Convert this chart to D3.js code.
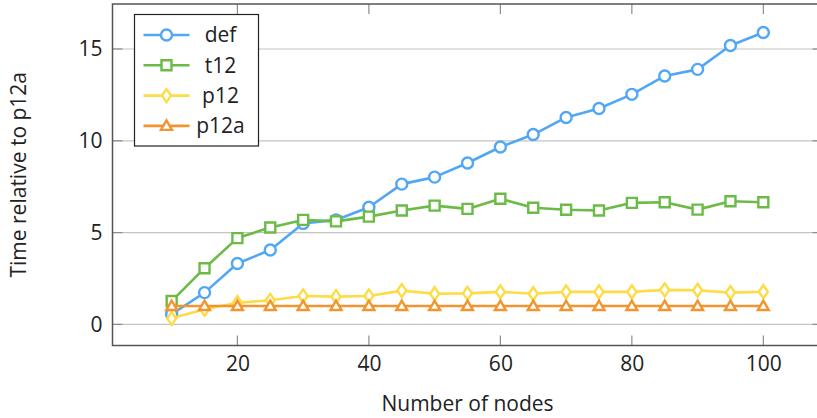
<!DOCTYPE html>
<html lang="en">
<head>
<meta charset="UTF-8">
<title>Time relative to p12a</title>
<script src="https://d3js.org/d3.v7.min.js"></script>
<style>
  body { margin: 0; background: #fff; }
  svg text { font-family: "Open Sans", Lato, sans-serif; fill: #222; }
</style>
</head>
<body>
<div id="chart"></div>
<script>
  // node counts on the x axis
  const nodes = [10, 15, 20, 25, 30, 35, 40, 45, 50, 55, 60, 65, 70, 75, 80, 85, 90, 95, 100];

  // series values
  const defVals = [0.55, 1.73, 3.32, 4.05, 5.50, 5.69, 6.38, 7.64, 8.02, 8.79, 9.66, 10.34, 11.27, 11.76, 12.53, 13.53, 13.89, 15.19, 15.90];
  const t12Vals = [1.27, 3.06, 4.70, 5.28, 5.69, 5.61, 5.87, 6.20, 6.47, 6.29, 6.84, 6.35, 6.24, 6.20, 6.62, 6.65, 6.25, 6.71, 6.65];
  const p12Vals = [0.33, 0.82, 1.18, 1.31, 1.55, 1.51, 1.55, 1.84, 1.67, 1.69, 1.77, 1.67, 1.77, 1.77, 1.77, 1.88, 1.86, 1.73, 1.78];
  const p12aVals = [1, 1, 1, 1, 1, 1, 1, 1, 1, 1, 1, 1, 1, 1, 1, 1, 1, 1, 1];

  const xTicks = [20, 40, 60, 80, 100];
  const yTicks = [0, 5, 10, 15];

  const series = [
    { name: "def", values: defVals, color: "#52a7f5", marker: "circle" },
    { name: "t12", values: t12Vals, color: "#6cbb47", marker: "square" },
    { name: "p12", values: p12Vals, color: "#fddc45", marker: "diamond" },
    { name: "p12a", values: p12aVals, color: "#f0952f", marker: "triangle" }
  ];

  const W = 817, H = 418;
  const box = { left: 112.5, top: 4, right: 822.5, bottom: 345.5 };
  const fs = "21px";

  const x = d3.scaleLinear().domain([1, 109]).range([box.left, box.right]);
  const y = d3.scaleLinear().domain([-1.15, 17.45]).range([box.bottom, box.top]);

  const svg = d3.select("#chart").append("svg")
      .attr("width", W)
      .attr("height", H);

  // horizontal grid
  svg.append("g").selectAll("line")
    .data(yTicks).enter().append("line")
      .attr("x1", box.left).attr("x2", box.right)
      .attr("y1", d => y(d)).attr("y2", d => y(d))
      .attr("stroke", "#c4c4c4").attr("stroke-width", 1.2);

  // tick marks, inside the box on every side
  const tl = 10;
  const ticks = svg.append("g").attr("stroke", "#8c8c8c").attr("stroke-width", 1.2);
  xTicks.forEach(t => {
    ticks.append("line").attr("x1", x(t)).attr("x2", x(t)).attr("y1", box.bottom).attr("y2", box.bottom - tl);
    ticks.append("line").attr("x1", x(t)).attr("x2", x(t)).attr("y1", box.top).attr("y2", box.top + tl);
  });
  yTicks.forEach(t => {
    ticks.append("line").attr("x1", box.left).attr("x2", box.left + tl).attr("y1", y(t)).attr("y2", y(t));
    ticks.append("line").attr("x1", box.right).attr("x2", box.right - tl).attr("y1", y(t)).attr("y2", y(t));
  });

  // axes via d3 (labels only, ticks drawn above)
  const xAxis = svg.append("g")
      .attr("transform", `translate(0,${box.bottom})`)
      .call(d3.axisBottom(x).tickValues(xTicks).tickSize(0).tickPadding(11));
  const yAxis = svg.append("g")
      .attr("transform", `translate(${box.left},0)`)
      .call(d3.axisLeft(y).tickValues(yTicks).tickSize(0).tickPadding(10));
  [xAxis, yAxis].forEach(a => {
    a.select(".domain").remove();
    a.selectAll("text").style("font-size", fs).style("font-family", "'Open Sans', sans-serif").attr("fill", "#222");
  });

  // box
  svg.append("rect")
      .attr("x", box.left).attr("y", box.top)
      .attr("width", box.right - box.left).attr("height", box.bottom - box.top)
      .attr("fill", "none").attr("stroke", "#555").attr("stroke-width", 1.5);

  // markers
  function markerPath(kind) {
    if (kind === "circle") return d3.symbol(d3.symbolCircle, 95)();
    if (kind === "square") return "M-5,-5H5V5H-5Z";
    if (kind === "diamond") return "M0,-6.5L4.5,0L0,6.5L-4.5,0Z";
    return "M0,-5.5L5.5,4L-5.5,4Z";
  }

  const line = d3.line()
      .x((d, i) => x(nodes[i]))
      .y(d => y(d));

  series.forEach(s => {
    const g = svg.append("g");
    g.append("path")
        .attr("d", line(s.values))
        .attr("fill", "none")
        .attr("stroke", s.color)
        .attr("stroke-width", 2.6)
        .attr("stroke-linejoin", "round");
    g.selectAll("path.mk")
      .data(s.values).enter().append("path")
        .attr("class", "mk")
        .attr("d", markerPath(s.marker))
        .attr("transform", (d, i) => `translate(${x(nodes[i])},${y(d)})`)
        .attr("fill", "#fff")
        .attr("stroke", s.color)
        .attr("stroke-width", 2.4);
  });

  // legend
  const lg = svg.append("g").attr("transform", "translate(134.5,14.5)");
  lg.append("rect")
      .attr("width", 124).attr("height", 131.5)
      .attr("fill", "#fff").attr("stroke", "#222").attr("stroke-width", 1.2);
  series.forEach((s, i) => {
    const ry = 20.5 + i * 30.3;
    lg.append("line")
        .attr("x1", 9).attr("x2", 55).attr("y1", ry).attr("y2", ry)
        .attr("stroke", s.color).attr("stroke-width", 2.6);
    lg.append("path")
        .attr("d", markerPath(s.marker))
        .attr("transform", `translate(32,${ry})`)
        .attr("fill", "#fff").attr("stroke", s.color).attr("stroke-width", 2.4);
    lg.append("text")
        .attr("x", 86).attr("y", ry)
        .attr("dy", "0.35em")
        .attr("text-anchor", "middle")
        .style("font-size", fs)
        .text(s.name);
  });

  // axis titles
  svg.append("text")
      .attr("x", (box.left + box.right) / 2)
      .attr("y", 411)
      .attr("text-anchor", "middle")
      .style("font-size", fs)
      .text("Number of nodes");
  svg.append("text")
      .attr("transform", `translate(26,${(box.top + box.bottom) / 2}) rotate(-90)`)
      .attr("text-anchor", "middle")
      .style("font-size", fs)
      .text("Time relative to p12a");
</script>
</body>
</html>
